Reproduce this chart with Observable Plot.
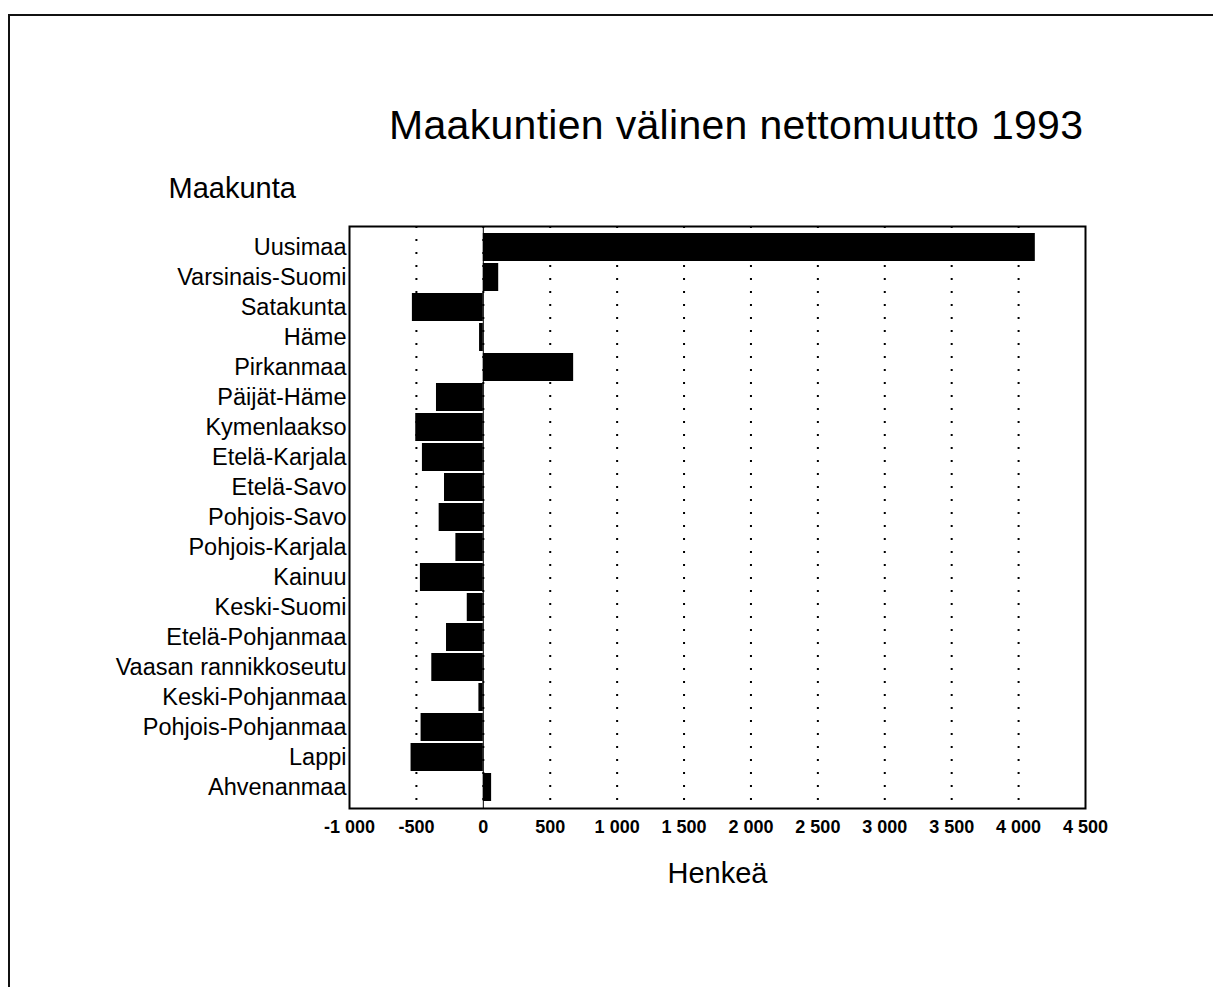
<!DOCTYPE html>
<html>
<head>
<meta charset="utf-8">
<script src="https://cdn.jsdelivr.net/npm/d3@7"></script>
<script src="https://cdn.jsdelivr.net/npm/@observablehq/plot@0.6"></script>
<style>
  html, body { margin: 0; padding: 0; background: white; }
  body { width: 1213px; height: 987px; overflow: hidden; position: relative; font-family: "Liberation Sans", Arial, sans-serif; color: black; }
  #scanframe { position: absolute; left: 8px; top: 14px; width: 1213px; height: 990px; border-top: 2px solid #111; border-left: 2px solid #111; pointer-events: none; }
  #titlebox { position: relative; height: 160px; }
  #title { position: absolute; left: 389px; top: 105px; font-size: 41px; line-height: 41px; white-space: nowrap; letter-spacing: 0.3px; }
  #chart { position: relative; }
</style>
</head>
<body>
<div id="titlebox"><div id="title">Maakuntien välinen nettomuutto 1993</div></div>
<div id="chart"></div>
<div id="scanframe"></div>
<script>
const categories = [
  "Uusimaa", "Varsinais-Suomi", "Satakunta", "Häme", "Pirkanmaa", "Päijät-Häme",
  "Kymenlaakso", "Etelä-Karjala", "Etelä-Savo", "Pohjois-Savo", "Pohjois-Karjala",
  "Kainuu", "Keski-Suomi", "Etelä-Pohjanmaa", "Vaasan rannikkoseutu",
  "Keski-Pohjanmaa", "Pohjois-Pohjanmaa", "Lappi", "Ahvenanmaa"
];
const values = [
  4125, 115, -530, -28, 675, -350,
  -505, -455, -290, -330, -205,
  -470, -120, -275, -385,
  -33, -465, -540, 62
];
const xTicks = [-1000, -500, 0, 500, 1000, 1500, 2000, 2500, 3000, 3500, 4000, 4500];
const gridTicks = [-500, 0, 500, 1000, 1500, 2000, 2500, 3000, 3500, 4000];
const yLabel = "Maakunta";
const xLabel = "Henkeä";

const data = categories.map((name, i) => ({name, value: values[i]}));
const locale = d3.formatLocale({decimal: ",", thousands: " ", grouping: [3], currency: ["", ""], minus: "-"});
const fmt = locale.format(",d");

const chart = Plot.plot({
  width: 1213,
  height: 827,
  marginLeft: 349,
  marginRight: 128,
  marginTop: 66,
  marginBottom: 179,
  style: {fontFamily: "'Liberation Sans', Arial, sans-serif", background: "white", color: "black"},
  x: {domain: [-1000, 4500]},
  y: {domain: categories, paddingInner: 0.08, paddingOuter: 0.03},
  marks: [
    Plot.ruleX(gridTicks, {x: d => d, stroke: "black", strokeWidth: 2, strokeDasharray: "2 11"}),
    Plot.barX(data, {x: "value", y: "name", fill: "black"}),
    Plot.ruleX([0], {stroke: "black", strokeWidth: 1}),
    Plot.frame({stroke: "black", strokeWidth: 2}),
    Plot.axisX({ticks: xTicks, tickSize: 0, tickPadding: 12, tickFormat: fmt, fontSize: 18, fontWeight: "bold", label: null}),
    Plot.axisY({tickSize: 0, tickPadding: 3, fontSize: 23.5, label: null}),
    Plot.text([xLabel], {frameAnchor: "bottom", dy: 65, fontSize: 29, lineAnchor: "middle", fill: "black"}),
    Plot.text([yLabel], {frameAnchor: "top-left", dx: -181, dy: -38, fontSize: 29, textAnchor: "start", lineAnchor: "middle", fill: "black"})
  ]
});
document.getElementById("chart").appendChild(chart);
</script>
</body>
</html>
